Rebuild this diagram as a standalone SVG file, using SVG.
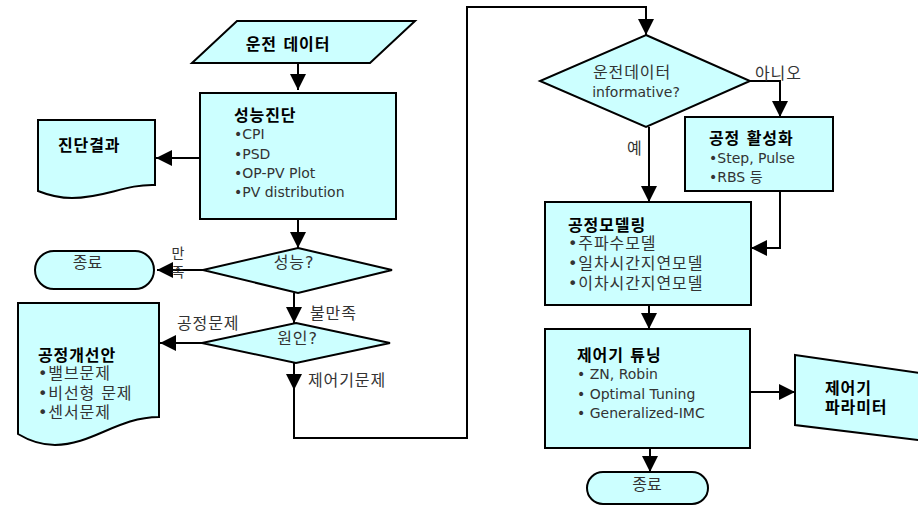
<svg xmlns="http://www.w3.org/2000/svg" width="918" height="506" viewBox="0 0 918 506">
<style>
.shape{fill:#CCFFFF;stroke:#000;stroke-width:2}
.conn{fill:none;stroke:#000;stroke-width:2}
text{font-family:"DejaVu Sans","Noto Sans CJK KR",sans-serif;fill:#333}
.b{font-weight:bold;fill:#000;font-size:16px;letter-spacing:0.9px}
.k{font-size:16px;letter-spacing:0.9px}
.e{font-size:16px}
.l{font-size:14px}
.m{text-anchor:middle}
</style>
<defs>
<marker id="arr" markerUnits="userSpaceOnUse" viewBox="0 0 16 16" refX="16" refY="8" markerWidth="16" markerHeight="16" orient="auto">
<path d="M0,0 L16,8 L0,16 Z" fill="#000"/>
</marker>
</defs>
<rect width="918" height="506" fill="#fff"/>
<g id="connectors">
<path class="conn" d="M298,63 V90" marker-end="url(#arr)"/>
<path class="conn" d="M200,158 H156" marker-end="url(#arr)"/>
<path class="conn" d="M298,219 V248" marker-end="url(#arr)"/>
<path class="conn" d="M203,270 H157" marker-end="url(#arr)"/>
<path class="conn" d="M294,293 V323" marker-end="url(#arr)"/>
<path class="conn" d="M202,343 H160" marker-end="url(#arr)"/>
<path class="conn" d="M294,363 V390" marker-end="url(#arr)"/>
<path class="conn" d="M294,389 V438 H467 V7 H646 V35" marker-end="url(#arr)"/>
<path class="conn" d="M750,81 H780 V117" marker-end="url(#arr)"/>
<path class="conn" d="M649,127 V202" marker-end="url(#arr)"/>
<path class="conn" d="M780,191 V248 H751" marker-end="url(#arr)"/>
<path class="conn" d="M649,305 V329" marker-end="url(#arr)"/>
<path class="conn" d="M750,392 H795" marker-end="url(#arr)"/>
<path class="conn" d="M650,448 V472" marker-end="url(#arr)"/>
</g>
<g id="n-data">
<polygon class="shape" points="237,21 415,21 370,63 192,63"/>
<text class="b m" x="288" y="49.5">운전 데이터</text>
</g>
<g id="n-diag">
<rect class="shape" x="200" y="93" width="196" height="126"/>
<text class="b" x="234" y="120.5">성능진단</text>
<text class="l" x="234" y="138.5">•CPI</text>
<text class="l" x="234" y="158.5">•PSD</text>
<text class="l" x="234" y="177.5">•OP-PV Plot</text>
<text class="l" x="234" y="196.5">•PV distribution</text>
</g>
<g id="n-result">
<path class="shape" d="M38,120 H155 V185 C125,184 105,198 72,198 C58,198 48,195 38,191 Z"/>
<text class="b" x="58" y="150.5">진단결과</text>
</g>
<g id="n-end1">
<rect class="shape" x="35" y="251" width="119" height="38" rx="19" ry="19"/>
<text class="e m" x="87.5" y="267.5">종료</text>
</g>
<g id="n-perf">
<polygon class="shape" points="298,248 392,270 298,293 203,270"/>
<text class="k m" x="294" y="267.5">성능?</text>
<text class="l m" x="178" y="258">만</text>
<text class="l m" x="178" y="277">족</text>
<text class="k" x="310" y="318.5">불만족</text>
</g>
<g id="n-cause">
<polygon class="shape" points="296,323 390,343 296,363 202,343"/>
<text class="k m" x="297.5" y="343.5">원인?</text>
<text class="k" x="177" y="328.5">공정문제</text>
<text class="k" x="308" y="385.5">제어기문제</text>
</g>
<g id="n-improve">
<path class="shape" d="M18,303 H159 V417 C118,417 92,445 55,445 C40,445 28,440 18,434 Z"/>
<text class="b" x="38" y="360.5">공정개선안</text>
<text class="k" x="38" y="378.5">•밸브문제</text>
<text class="k" x="38" y="398.5">•비선형 문제</text>
<text class="k" x="38" y="417.5">•센서문제</text>
</g>
<g id="n-informative">
<polygon class="shape" points="646,35 750,81 646,127 540,81"/>
<text class="k m" x="632" y="77.5">운전데이터</text>
<text class="l m" x="636" y="97">informative?</text>
<text class="k" x="755" y="78.5">아니오</text>
<text class="k" x="627" y="153.5">예</text>
</g>
<g id="n-excite">
<rect class="shape" x="685" y="117" width="148" height="74"/>
<text class="b" x="709" y="143.5">공정 활성화</text>
<text class="l" x="709" y="163">•Step, Pulse</text>
<text class="l" x="709" y="182">•RBS 등</text>
</g>
<g id="n-model">
<rect class="shape" x="545" y="202" width="206" height="103"/>
<text class="b" x="568" y="230.5">공정모델링</text>
<text class="k" x="568" y="248.5">•주파수모델</text>
<text class="k" x="568" y="268.5">•일차시간지연모델</text>
<text class="k" x="568" y="288.5">•이차시간지연모델</text>
</g>
<g id="n-tune">
<rect class="shape" x="545" y="329" width="205" height="119"/>
<text class="b" x="577" y="360.5">제어기 튜닝</text>
<text class="l" x="577" y="379">• ZN, Robin</text>
<text class="l" x="577" y="399">• Optimal Tuning</text>
<text class="l" x="577" y="418">• Generalized-IMC</text>
</g>
<g id="n-param">
<polygon class="shape" points="795,355 926,374 926,441 795,425"/>
<text class="b" x="825" y="393.5">제어기</text>
<text class="b" x="825" y="412.5">파라미터</text>
</g>
<g id="n-end2">
<rect class="shape" x="587" y="472" width="121" height="32" rx="16" ry="16"/>
<text class="e m" x="647" y="490">종료</text>
</g>
</svg>
